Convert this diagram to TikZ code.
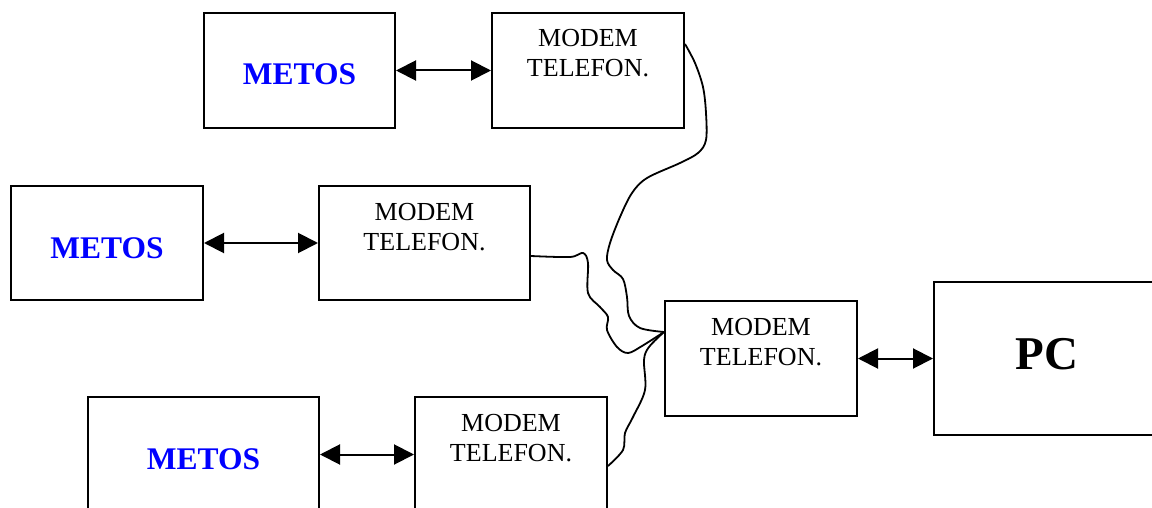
\documentclass[tikz,border=0pt]{standalone}
\usepackage{fontspec}
\setmainfont{Liberation Serif}
\usetikzlibrary{arrows.meta,calc}
\definecolor{metosblue}{RGB}{0,0,255}
\tikzset{
  box/.style={draw, line width=2pt, inner sep=0pt},
  modemtxt/.style={font=\fontsize{26}{30}\selectfont, align=center, inner sep=0pt, anchor=base},
  metostxt/.style={font=\fontsize{31.5}{36}\selectfont\bfseries, text=metosblue, inner sep=0pt, anchor=base},
  pctxt/.style={font=\fontsize{47}{50}\selectfont\bfseries, inner sep=0pt, anchor=base},
  link/.style={line width=2pt, {Triangle[length=20pt,width=20pt]}-{Triangle[length=20pt,width=20pt]}},
  wire/.style={line width=1.8pt, line join=round}
}
\begin{document}
\begin{tikzpicture}[x=1pt,y=-1pt]
\useasboundingbox (0,0) rectangle (1152,508);
\clip (0,0) rectangle (1152,508);
% boxes
\node[box, minimum width=191pt, minimum height=115pt] (metosA) at (299.5,70.5) {};
\node[box, minimum width=192pt, minimum height=115pt] (modemA) at (588,70.5) {};
\node[box, minimum width=192pt, minimum height=114pt] (metosB) at (107,243) {};
\node[box, minimum width=211pt, minimum height=114pt] (modemB) at (424.5,243) {};
\node[box, minimum width=231pt, minimum height=115pt] (metosC) at (203.5,454.5) {};
\node[box, minimum width=192pt, minimum height=115pt] (modemC) at (511,454.5) {};
\node[box, minimum width=192pt, minimum height=115pt] (mc) at (761,358.5) {};
\node[box, minimum width=230pt, minimum height=153pt] (pc) at (1049,358.5) {};
% texts
\node[metostxt] (tmA) at ($(metosA.north)+(0,73)$) {METOS};
\node[metostxt] (tmB) at ($(metosB.north)+(0,73)$) {METOS};
\node[metostxt] (tmC) at ($(metosC.north)+(0,73)$) {METOS};
\node[modemtxt] (tdA) at ($(modemA.north)+(0,65)$) {MODEM\\TELEFON.};
\node[modemtxt] (tdB) at ($(modemB.north)+(0,65)$) {MODEM\\TELEFON.};
\node[modemtxt] (tdC) at ($(modemC.north)+(0,65)$) {MODEM\\TELEFON.};
\node[modemtxt] (tdM) at ($(mc.north)+(0,65)$) {MODEM\\TELEFON.};
\node[pctxt] (tpc) at ($(pc.north)+(-2,88)$) {PC};
% arrows
\draw[link] (metosA) -- (modemA);
\draw[link] (metosB) -- (modemB);
\draw[link] (metosC) -- (modemC);
\draw[link] (mc) -- (pc);
% wires
\coordinate (hub) at ($(mc.north west)+(0,32)$);
\coordinate (wA) at ($(modemA.north east)+(0,32)$);
\coordinate (wB) at ($(modemB.north east)+(0,71)$);
\coordinate (wC) at ($(modemC.north east)+(0,70)$);
\draw[wire] plot[smooth, tension=0.55] coordinates {(wA) (695,63) (703,87) (706,113) (706,140) (698,153) (680,163) (647,178) (632,193) (620,217) (610,243) (607,260) (613,270) (623,279) (627,297) (629,316) (640,328) (hub)};
\draw[wire] plot[smooth, tension=0.55] coordinates {(wB) (570,257) (583,253) (588,263) (588,293) (600,307) (608,317) (607,330) (617,347) (628,353) (642,346) (hub)};
\draw[wire] plot[smooth, tension=0.55] coordinates {(wC) (623,450) (625,433) (633,417) (645,390) (644,360) (649,347) (hub)};
\end{tikzpicture}
\end{document}
